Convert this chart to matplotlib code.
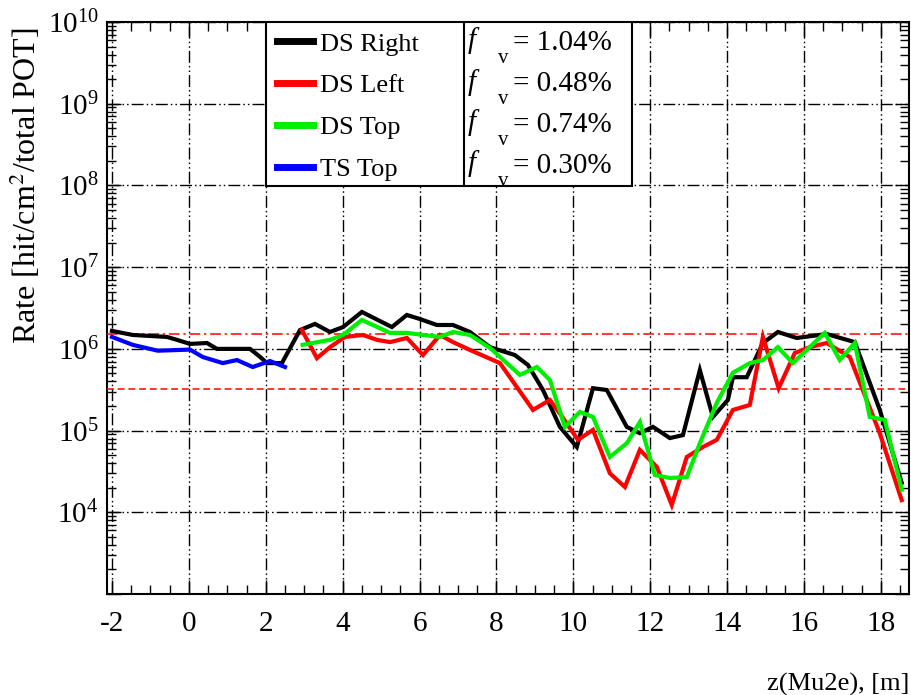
import math
import matplotlib
matplotlib.use('Agg')
import matplotlib.pyplot as plt
import matplotlib.ticker as ticker
from matplotlib.patches import Rectangle
from matplotlib.lines import Line2D

plt.rcParams['font.family'] = ['Liberation Serif', 'DejaVu Serif']
plt.rcParams['mathtext.fontset'] = 'stix'
plt.rcParams['axes.unicode_minus'] = False

# ── DATA ─────────────────────────────────────────────────────────────────
z_ds_right = [-2.00, -1.46, -0.57, -0.31, 0.03, 0.47, 0.73, 1.59, 1.85, 2.03,
              2.42, 2.89, 3.28, 3.67, 4.01, 4.50, 5.28, 5.67, 6.01, 6.45,
              6.87, 7.31, 7.83, 8.48, 8.82, 9.21, 9.65, 10.09, 10.51, 10.87,
              11.39, 11.73, 12.07, 12.51, 12.85, 13.29, 13.63, 14.02, 14.15, 14.51,
              14.93, 15.32, 15.81, 16.59, 17.32, 17.97, 18.54]
rate_ds_right = [1.66e6, 1.48e6, 1.40e6, 1.29e6, 1.15e6, 1.18e6, 1.0e6, 1.0e6, 8.0e5, 6.7e5,
                 6.7e5, 1.70e6, 2.02e6, 1.61e6, 1.85e6, 2.83e6, 1.85e6, 2.6e6, 2.32e6, 1.96e6,
                 1.96e6, 1.61e6, 1.05e6, 8.4e5, 6.35e5, 3.14e5, 1.11e5, 6.3e4, 3.3e5, 3.14e5,
                 1.11e5, 9.3e4, 1.11e5, 8.1e4, 8.8e4, 5.5e5, 1.47e5, 2.37e5, 4.5e5, 4.5e5,
                 1.18e6, 1.61e6, 1.36e6, 1.52e6, 1.21e6, 1.79e5, 2.3e4]

z_ds_left = [2.94, 3.33, 3.67, 4.06, 4.53, 4.89, 5.23, 5.67, 6.09, 6.53,
             6.87, 7.31, 8.09, 8.95, 9.39, 9.73, 10.12, 10.51, 10.95, 11.34,
             11.73, 12.17, 12.56, 12.95, 13.37, 13.73, 14.15, 14.59, 14.93, 15.34,
             15.76, 16.15, 16.59, 17.19, 17.97, 18.54]
rate_ds_left = [1.70e6, 7.7e5, 1.05e6, 1.40e6, 1.48e6, 1.29e6, 1.21e6, 1.36e6, 8.4e5, 1.48e6,
                1.21e6, 9.7e5, 6.7e5, 1.79e5, 2.37e5, 1.43e5, 7.7e4, 1.02e5, 3.0e4, 2.04e4,
                5.8e4, 3.6e4, 1.23e4, 4.75e4, 6.3e4, 7.7e4, 1.79e5, 2.06e5, 1.40e6, 3.3e5,
                8.9e5, 1.05e6, 1.18e6, 7.96e5, 9.3e4, 1.41e4]

z_ds_top = [2.96, 3.67, 4.01, 4.50, 5.23, 5.67, 6.09, 6.53, 6.87, 7.31,
            7.83, 8.61, 9.05, 9.39, 9.78, 10.17, 10.51, 10.95, 11.39, 11.73,
            12.12, 12.51, 12.95, 13.29, 13.73, 14.15, 14.59, 14.93, 15.32, 15.71,
            16.54, 16.93, 17.32, 17.71, 18.10, 18.54]
rate_ds_top = [1.12e6, 1.29e6, 1.48e6, 2.26e6, 1.57e6, 1.57e6, 1.48e6, 1.40e6, 1.61e6, 1.48e6,
               1.03e6, 4.8e5, 6.0e5, 4.16e5, 1.11e5, 1.69e5, 1.47e5, 4.75e4, 7.0e4, 1.27e5,
               2.86e4, 2.63e4, 2.7e4, 7.0e4, 2.18e5, 5.1e5, 6.7e5, 7.3e5, 1.05e6, 6.7e5,
               1.57e6, 7.3e5, 1.18e6, 1.47e5, 1.35e5, 1.88e4]

z_ts_top = [-2.00, -1.46, -0.81, 0.03, 0.36, 0.88, 1.25, 1.66, 2.11, 2.50]
rate_ts_top = [1.40e6, 1.12e6, 9.5e5, 9.8e5, 7.96e5, 6.7e5, 7.3e5, 6.0e5, 7.1e5, 6.0e5]

series_labels = ['DS Right', 'DS Left', 'DS Top', 'TS Top']
series_colors = ['black', '#ff0000', '#00ee00', '#0000ff']
f_v_values = ['1.04%', '0.48%', '0.74%', '0.30%']

level_high = 1.5e6   # dash-dot red
level_low = 3.2e5    # dashed red

# ── FIGURE ───────────────────────────────────────────────────────────────
fig = plt.figure(figsize=(9.12, 6.95), dpi=100, facecolor='white')
ax = fig.add_axes([0.1173, 0.1453, 0.8794, 0.8230])

grid_ls = (0, (8.6, 2.2, 1.1, 2.2, 1.1, 2.2))
ax.grid(True, which='major', color='black', lw=1.0, ls=grid_ls, zorder=1)
ax.set_axisbelow(True)

ax.axhline(level_high, color='#ff0000', lw=1.1, ls=(0, (7, 2.5, 1.5, 2.5)), zorder=3)
ax.axhline(level_low, color='#ff0000', lw=1.1, ls=(0, (4.5, 2.5)), zorder=3)

all_z = [z_ds_right, z_ds_left, z_ds_top, z_ts_top]
all_rate = [rate_ds_right, rate_ds_left, rate_ds_top, rate_ts_top]
handles = []
for z, r, c, lbl in zip(all_z, all_rate, series_colors, series_labels):
    ln, = ax.plot(z, r, color=c, lw=3.0, label=lbl, zorder=4, solid_joinstyle='miter')
    handles.append(ln)

ax.set_yscale('log')
ax.set_xlim(-2.13, 18.73)
ax.set_ylim(1e3, 1e10)


def log_label(v, pos):
    # bottom decade carries no label in the reference
    if v < 5e3:
        return ''
    return r'$\mathdefault{10^{%d}}$' % round(math.log10(v))


ax.xaxis.set_major_locator(ticker.MultipleLocator(2))
ax.xaxis.set_minor_locator(ticker.MultipleLocator(0.5))
ax.yaxis.set_major_locator(ticker.LogLocator(base=10, numticks=20))
ax.yaxis.set_major_formatter(ticker.FuncFormatter(log_label))
ax.yaxis.set_minor_locator(ticker.LogLocator(base=10, subs=range(2, 10), numticks=20))
ax.yaxis.set_minor_formatter(ticker.NullFormatter())
ax.tick_params(which='both', direction='in', top=True, right=True, labelsize=21, width=1.0)
ax.tick_params(which='major', length=10)
ax.tick_params(axis='x', which='major', pad=12)
ax.tick_params(axis='y', which='major', pad=6)
ax.tick_params(which='minor', length=6.5)
for sp in ax.spines.values():
    sp.set_linewidth(1.5)

ax.set_ylabel('Rate [hit/cm$^2$/total POT]', fontsize=23, loc='top')
ax.yaxis.set_label_coords(-0.08, 0.99)
ax.set_xlabel('z(Mu2e), [m]', fontsize=19, loc='right')
ax.xaxis.set_label_coords(1.0, -0.138)

# ── LEGEND BOX ───────────────────────────────────────────────────────────
box_x0, box_xd, box_x1, box_y0 = 0.198, 0.445, 0.655, 0.713
ax.add_patch(Rectangle((box_x0, box_y0), box_x1 - box_x0, 1 - box_y0, transform=ax.transAxes,
                       facecolor='white', edgecolor='black', lw=1.5, zorder=10))
ax.add_line(Line2D([box_xd, box_xd], [box_y0, 1.0], transform=ax.transAxes,
                   color='black', lw=1.5, zorder=11))
leg = ax.legend(handles=handles, loc='upper left', bbox_to_anchor=(box_x0 + 0.002, 1.0),
                frameon=False, fontsize=19, handlelength=1.35, handletextpad=0.25,
                labelspacing=0.70, borderpad=0.38, borderaxespad=0.0)
leg.set_zorder(12)
for lh in leg.get_lines():
    lh.set_linewidth(5)

row_y = [0.963, 0.891, 0.820, 0.748]
for y, val in zip(row_y, f_v_values):
    ax.text(0.450, y + 0.004, 'f', transform=ax.transAxes, fontsize=21, style='italic',
            va='center', ha='left', zorder=13)
    ax.text(0.487, y - 0.027, 'v', transform=ax.transAxes, fontsize=15,
            va='center', ha='left', zorder=13)
    ax.text(0.506, y, '= ' + val, transform=ax.transAxes, fontsize=21,
            va='center', ha='left', zorder=13)

fig.savefig('out.png', dpi=100, facecolor='white')
